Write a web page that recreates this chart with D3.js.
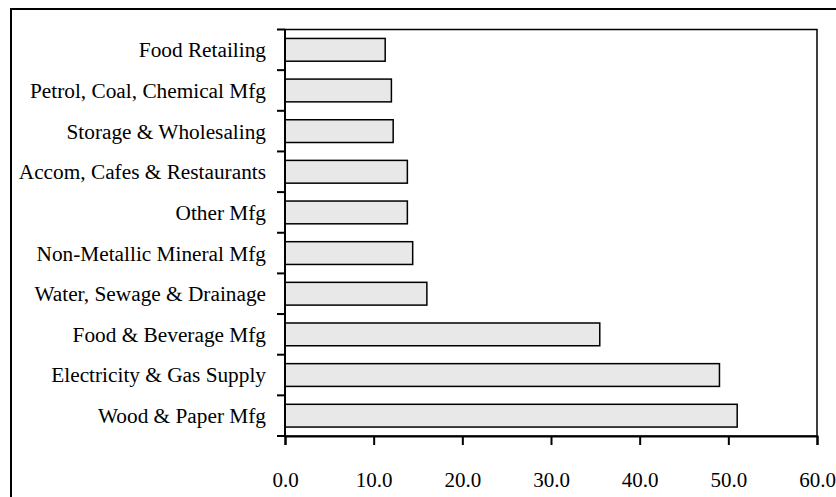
<!DOCTYPE html>
<html>
<head>
<meta charset="utf-8">
<script src="https://cdn.jsdelivr.net/npm/d3@7"></script>
<style>
  html, body { margin: 0; padding: 0; background: #fff; }
  svg { display: block; }
</style>
</head>
<body>
<svg id="chart" width="836" height="497"></svg>
<script>
// Industries, listed top to bottom
const categories = [
  "Food Retailing",
  "Petrol, Coal, Chemical Mfg",
  "Storage & Wholesaling",
  "Accom, Cafes & Restaurants",
  "Other Mfg",
  "Non-Metallic Mineral Mfg",
  "Water, Sewage & Drainage",
  "Food & Beverage Mfg",
  "Electricity & Gas Supply",
  "Wood & Paper Mfg"
];
const values = [11.3, 12.0, 12.2, 13.8, 13.8, 14.4, 16.0, 35.5, 49.0, 51.0];
const xTicks = [0, 10, 20, 30, 40, 50, 60];

const svg = d3.select("#chart");
const plot = { left: 285, right: 817, top: 29.5, bottom: 436 };
const serif = "'Liberation Serif', 'Times New Roman', serif";

// outer frame
svg.append("rect")
  .attr("x", 11).attr("y", 9)
  .attr("width", 840).attr("height", 500)
  .attr("fill", "none").attr("stroke", "#000").attr("stroke-width", 2);

const x = d3.scaleLinear().domain([0, 60]).range([plot.left, plot.right]);
const y = d3.scaleBand().domain(categories).range([plot.top, plot.bottom])
  .paddingInner(0.44).paddingOuter(0.22);

// plot area border
svg.append("rect")
  .attr("x", plot.left).attr("y", plot.top)
  .attr("width", plot.right - plot.left).attr("height", plot.bottom - plot.top)
  .attr("fill", "none").attr("stroke", "#000").attr("stroke-width", 1.5);

// bars
svg.append("g").selectAll("rect")
  .data(categories)
  .join("rect")
  .attr("x", x(0))
  .attr("y", d => y(d))
  .attr("width", (d, i) => x(values[i]) - x(0))
  .attr("height", y.bandwidth())
  .attr("fill", "#e8e8e8")
  .attr("stroke", "#000")
  .attr("stroke-width", 1.5);

// category axis: ticks at band boundaries
const step = (plot.bottom - plot.top) / categories.length;
const boundaries = d3.range(categories.length + 1).map(i => plot.top + i * step);
svg.append("line")
  .attr("x1", plot.left).attr("x2", plot.left)
  .attr("y1", plot.top).attr("y2", plot.bottom)
  .attr("stroke", "#000").attr("stroke-width", 2);
svg.append("g").selectAll("line")
  .data(boundaries)
  .join("line")
  .attr("x1", plot.left - 8).attr("x2", plot.left)
  .attr("y1", d => d).attr("y2", d => d)
  .attr("stroke", "#000").attr("stroke-width", 2);

svg.append("g").selectAll("text")
  .data(categories)
  .join("text")
  .attr("x", plot.left - 19)
  .attr("y", d => y(d) + y.bandwidth() / 2)
  .attr("dy", "0.35em")
  .attr("text-anchor", "end")
  .attr("font-family", serif)
  .attr("font-size", 21.3)
  .attr("fill", "#000")
  .text(d => d);

// value axis
const xAxis = d3.axisBottom(x).tickValues(xTicks).tickSize(9).tickPadding(27)
  .tickFormat(d3.format(".1f"));
const gx = svg.append("g")
  .attr("transform", `translate(0,${plot.bottom})`)
  .call(xAxis);
gx.select(".domain").attr("stroke", "#000").attr("stroke-width", 2);
gx.selectAll(".tick line").attr("stroke", "#000").attr("stroke-width", 2);
gx.selectAll(".tick text")
  .attr("font-family", serif)
  .attr("font-size", 21)
  .attr("fill", "#000");
</script>
</body>
</html>
